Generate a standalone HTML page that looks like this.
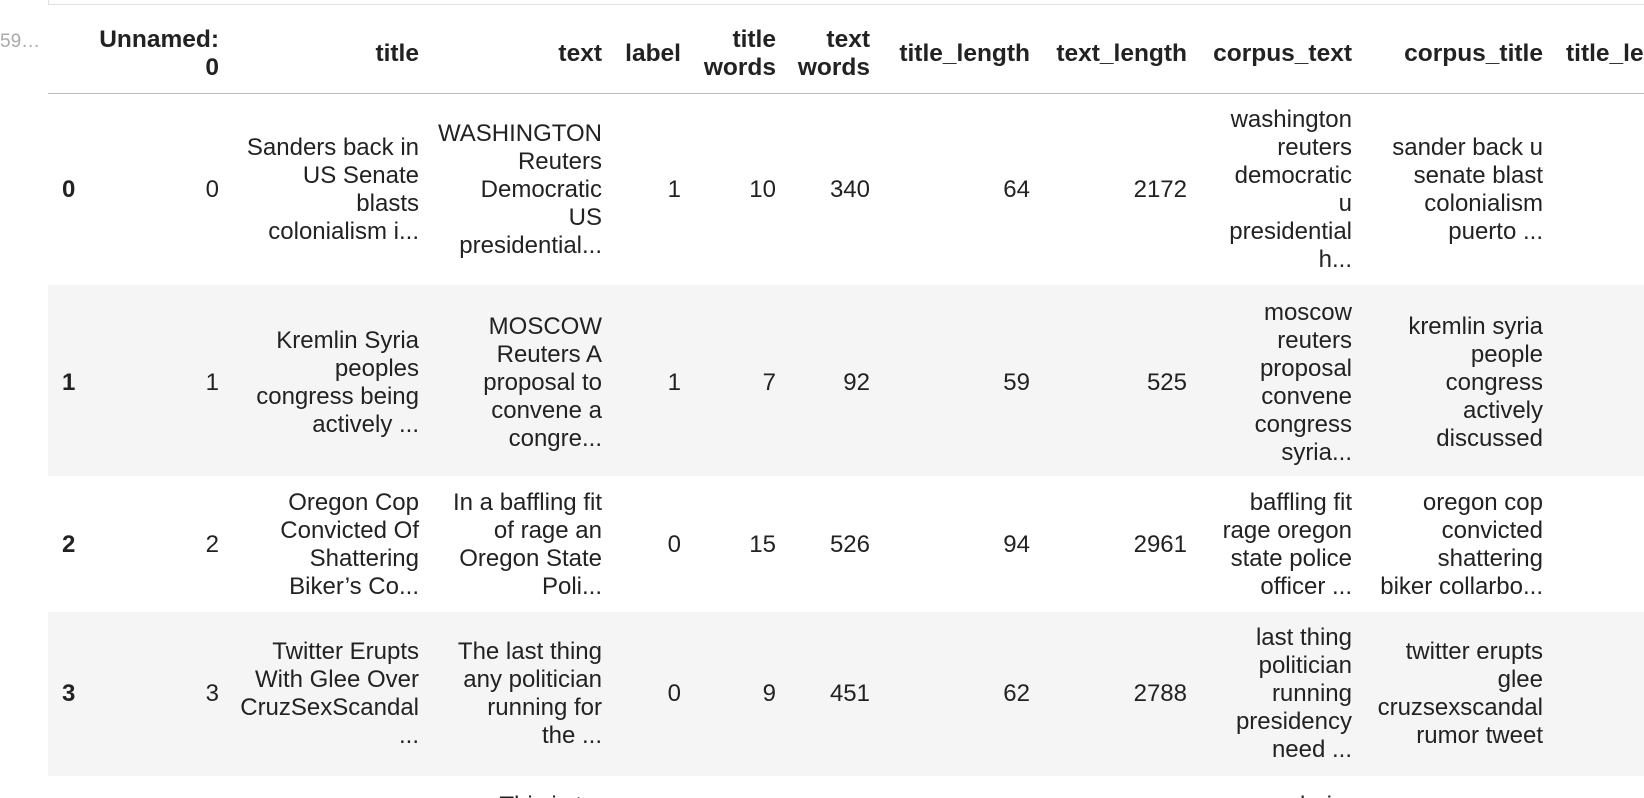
<!DOCTYPE html>
<html><head><meta charset="utf-8">
<style>
html,body{margin:0;padding:0;background:#fff;width:1644px;height:798px;overflow:hidden;}
body{position:relative;font-family:"Liberation Sans",Arial,sans-serif;color:#222;font-size:24px;line-height:28px;}
.c{position:absolute;text-align:right;white-space:nowrap;}
.h{font-weight:bold;font-size:24.5px;}
.idx{position:absolute;font-weight:bold;left:62px;}
.bg{position:absolute;left:48px;right:0;background:#f5f5f5;}
</style></head>
<body>
<div style="position:absolute;left:48px;right:0;top:4px;height:1px;background:#e0e0e0"></div>
<div style="position:absolute;left:48px;top:0;width:1px;height:5px;background:#e0e0e0"></div>
<div style="position:absolute;left:0;top:28px;color:#aaa;font-size:19px;">59…</div>

<div class="bg" style="top:285px;height:191px"></div>
<div class="bg" style="top:612px;height:164px"></div>
<div style="position:absolute;left:48px;right:0;top:93px;height:1px;background:#bdbdbd"></div>

<div>
<div class="c h" style="right:1425px;top:26px">Unnamed:<br>0</div>
<div class="c h" style="right:1225px;top:40px">title</div>
<div class="c h" style="right:1042px;top:40px">text</div>
<div class="c h" style="right:963px;top:40px">label</div>
<div class="c h" style="right:868px;top:26px">title<br>words</div>
<div class="c h" style="right:774px;top:26px">text<br>words</div>
<div class="c h" style="right:614px;top:40px">title_length</div>
<div class="c h" style="right:457px;top:40px">text_length</div>
<div class="c h" style="right:292px;top:40px">corpus_text</div>
<div class="c h" style="right:101px;top:40px">corpus_title</div>
<div class="c h" style="left:1566px;top:40px;text-align:left">title_length_</div>
</div>

<div>
<div class="idx" style="top:176px">0</div>
<div class="c" style="right:1425px;top:176px">0</div>
<div class="c" style="right:1225px;top:134px">Sanders back in<br>US Senate<br>blasts<br>colonialism i...</div>
<div class="c" style="right:1042px;top:120px">WASHINGTON<br>Reuters<br>Democratic<br>US<br>presidential...</div>
<div class="c" style="right:963px;top:176px">1</div>
<div class="c" style="right:868px;top:176px">10</div>
<div class="c" style="right:774px;top:176px">340</div>
<div class="c" style="right:614px;top:176px">64</div>
<div class="c" style="right:457px;top:176px">2172</div>
<div class="c" style="right:292px;top:106px">washington<br>reuters<br>democratic<br>u<br>presidential<br>h...</div>
<div class="c" style="right:101px;top:134px">sander back u<br>senate blast<br>colonialism<br>puerto ...</div>
</div>

<div>
<div class="idx" style="top:369px">1</div>
<div class="c" style="right:1425px;top:369px">1</div>
<div class="c" style="right:1225px;top:327px">Kremlin Syria<br>peoples<br>congress being<br>actively ...</div>
<div class="c" style="right:1042px;top:313px">MOSCOW<br>Reuters A<br>proposal to<br>convene a<br>congre...</div>
<div class="c" style="right:963px;top:369px">1</div>
<div class="c" style="right:868px;top:369px">7</div>
<div class="c" style="right:774px;top:369px">92</div>
<div class="c" style="right:614px;top:369px">59</div>
<div class="c" style="right:457px;top:369px">525</div>
<div class="c" style="right:292px;top:299px">moscow<br>reuters<br>proposal<br>convene<br>congress<br>syria...</div>
<div class="c" style="right:101px;top:313px">kremlin syria<br>people<br>congress<br>actively<br>discussed</div>
</div>

<div>
<div class="idx" style="top:531px">2</div>
<div class="c" style="right:1425px;top:531px">2</div>
<div class="c" style="right:1225px;top:489px">Oregon Cop<br>Convicted Of<br>Shattering<br>Biker’s Co...</div>
<div class="c" style="right:1042px;top:489px">In a baffling fit<br>of rage an<br>Oregon State<br>Poli...</div>
<div class="c" style="right:963px;top:531px">0</div>
<div class="c" style="right:868px;top:531px">15</div>
<div class="c" style="right:774px;top:531px">526</div>
<div class="c" style="right:614px;top:531px">94</div>
<div class="c" style="right:457px;top:531px">2961</div>
<div class="c" style="right:292px;top:489px">baffling fit<br>rage oregon<br>state police<br>officer ...</div>
<div class="c" style="right:101px;top:489px">oregon cop<br>convicted<br>shattering<br>biker collarbo...</div>
</div>

<div>
<div class="idx" style="top:680px">3</div>
<div class="c" style="right:1425px;top:680px">3</div>
<div class="c" style="right:1225px;top:638px">Twitter Erupts<br>With Glee Over<br>CruzSexScandal<br>...</div>
<div class="c" style="right:1042px;top:638px">The last thing<br>any politician<br>running for<br>the ...</div>
<div class="c" style="right:963px;top:680px">0</div>
<div class="c" style="right:868px;top:680px">9</div>
<div class="c" style="right:774px;top:680px">451</div>
<div class="c" style="right:614px;top:680px">62</div>
<div class="c" style="right:457px;top:680px">2788</div>
<div class="c" style="right:292px;top:624px">last thing<br>politician<br>running<br>presidency<br>need ...</div>
<div class="c" style="right:101px;top:638px">twitter erupts<br>glee<br>cruzsexscandal<br>rumor tweet</div>
</div>

<div>
<div class="c" style="right:1042px;top:792px">This is t...</div>
<div class="c" style="right:292px;top:792px">dari...</div>
</div>
</body></html>
